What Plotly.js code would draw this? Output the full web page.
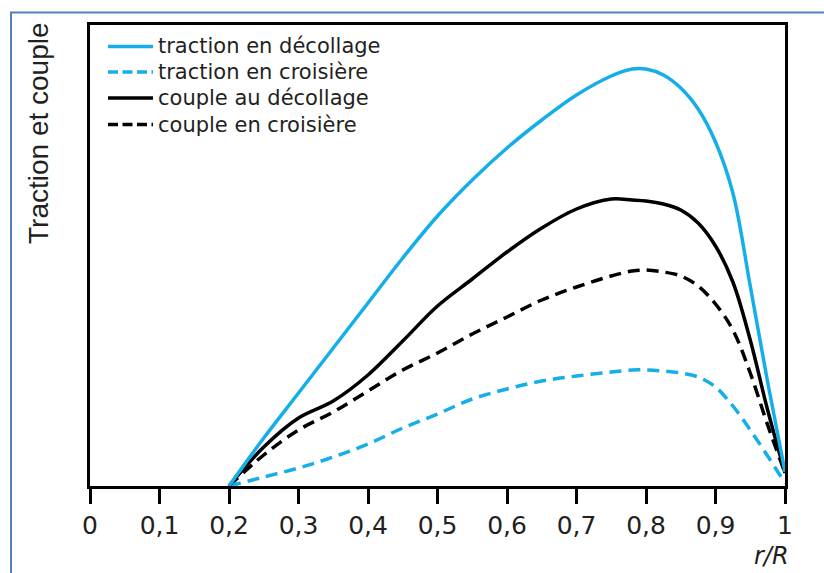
<!DOCTYPE html>
<html>
<head>
<meta charset="utf-8">
<script src="https://cdn.plot.ly/plotly-3.0.1.min.js"></script>
<style>
  html, body { margin: 0; padding: 0; background: #ffffff; }
  #chart { width: 824px; height: 573px; }
</style>
</head>
<body>
<div id="chart"></div>
<script>
// r/R positions
const rR = [0.2, 0.25, 0.3, 0.35, 0.4, 0.45, 0.5, 0.55, 0.6, 0.65, 0.7, 0.75, 0.78, 0.8, 0.825, 0.85, 0.875, 0.9, 0.925, 0.95, 0.975, 1.0];
// series (arbitrary units)
const tractionDecollage = [0, 48, 93, 138, 183, 228, 270, 306, 338, 366, 391, 410, 417, 417, 411, 398, 377, 344, 293, 200, 104, 14];
const tractionCroisiere = [0, 9, 18, 29, 42, 58, 72, 87, 97, 105, 110, 114, 116, 116, 115, 113, 109, 99, 80, 56, 30, 3];
const coupleDecollage = [0, 39, 68, 85, 111, 145, 180, 207, 234, 258, 277, 287, 286, 285, 282, 276, 263, 240, 204, 146, 76, 13];
const coupleCroisiere = [0, 31, 56, 74, 95, 116, 133, 152, 169, 186, 199, 210, 215, 216, 214, 210, 200, 182, 156, 113, 61, 13];

const seriesNames = ["traction en décollage", "traction en croisière", "couple au décollage", "couple en croisière"];
const tickVals = [0, 0.1, 0.2, 0.3, 0.4, 0.5, 0.6, 0.7, 0.8, 0.9, 1];
const tickText = ["0", "0,1", "0,2", "0,3", "0,4", "0,5", "0,6", "0,7", "0,8", "0,9", "1"];
const yTitle = "Traction et couple";
const xTitle = "r/R";

const BLUE = "#16aee8";
const BLACK = "#000000";
const TXT = "#231f20";
const seriesColors = [BLUE, BLUE, BLACK, BLACK];
const seriesDash = ["solid", "12px,7px", "solid", "12px,7px"];
const legendDash = ["solid", "10px,4.5px", "solid", "10px,4.5px"];
const seriesValues = [tractionDecollage, tractionCroisiere, coupleDecollage, coupleCroisiere];

// pixel helpers for layout placement (plot area: x 90..785, y 25..486)
const L = 90, R = 785, T = 25, B = 486;
const px = v => (v - L) / (R - L);
const py = v => (B - v) / (B - T);

// draw order: keep blue solid above
const order = [3, 1, 2, 0];
const traces = order.map(i => ({
  x: rR,
  y: seriesValues[i],
  name: seriesNames[i],
  type: "scatter",
  mode: "lines",
  line: { color: seriesColors[i], width: 3.5, dash: seriesDash[i], shape: "spline", smoothing: 1 },
  showlegend: false,
  hoverinfo: "skip"
}));

const shapes = [];
const annotations = [];
const rowY = [46.5, 72, 98, 124.5];
seriesNames.forEach((n, i) => {
  shapes.push({
    type: "line", xref: "paper", yref: "paper",
    x0: px(108), x1: px(153), y0: py(rowY[i]), y1: py(rowY[i]),
    line: { color: seriesColors[i], width: 3.5, dash: legendDash[i] }
  });
  annotations.push({
    xref: "paper", yref: "paper", x: px(156), y: py(rowY[i]),
    xanchor: "left", yanchor: "middle", showarrow: false,
    text: n, font: { family: "DejaVu Sans, sans-serif", size: 21, color: TXT }
  });
});
// outer blue frame
shapes.push({ type: "line", xref: "paper", yref: "paper", x0: px(11), x1: px(11), y0: py(12.5), y1: py(600), line: { color: "#4f81bd", width: 2 } });
shapes.push({ type: "line", xref: "paper", yref: "paper", x0: px(10), x1: px(840), y0: py(12.5), y1: py(12.5), line: { color: "#4f81bd", width: 2 } });

annotations.push({
  xref: "paper", yref: "paper", x: px(39), y: py(133), xanchor: "center", yanchor: "middle",
  textangle: -90, showarrow: false, text: yTitle,
  font: { family: "Liberation Sans, Arial, sans-serif", size: 28, color: TXT }
});
annotations.push({
  xref: "paper", yref: "paper", x: px(771), y: py(556), xanchor: "center", yanchor: "middle",
  showarrow: false, text: "<i>" + xTitle + "</i>",
  font: { family: "DejaVu Sans, sans-serif", size: 24, color: TXT }
});

const layout = {
  width: 824, height: 573,
  margin: { l: L, r: 824 - R, t: T, b: 573 - B, pad: 0 },
  paper_bgcolor: "#ffffff", plot_bgcolor: "#ffffff",
  separators: ", ",
  showlegend: false,
  xaxis: {
    range: [0, 1], tickvals: tickVals, ticktext: tickText,
    ticks: "outside", ticklen: 15, tickwidth: 3, tickcolor: "#000",
    showline: true, linewidth: 3, linecolor: "#000", mirror: true,
    showgrid: false, zeroline: false, fixedrange: true,
    tickfont: { family: "DejaVu Sans, sans-serif", size: 25, color: TXT }
  },
  yaxis: {
    range: [0, 461], showticklabels: false, ticks: "",
    showline: true, linewidth: 3, linecolor: "#000", mirror: true,
    showgrid: false, zeroline: false, fixedrange: true
  },
  shapes: shapes,
  annotations: annotations
};

Plotly.newPlot("chart", traces, layout, { displayModeBar: false, staticPlot: true });
</script>
</body>
</html>
